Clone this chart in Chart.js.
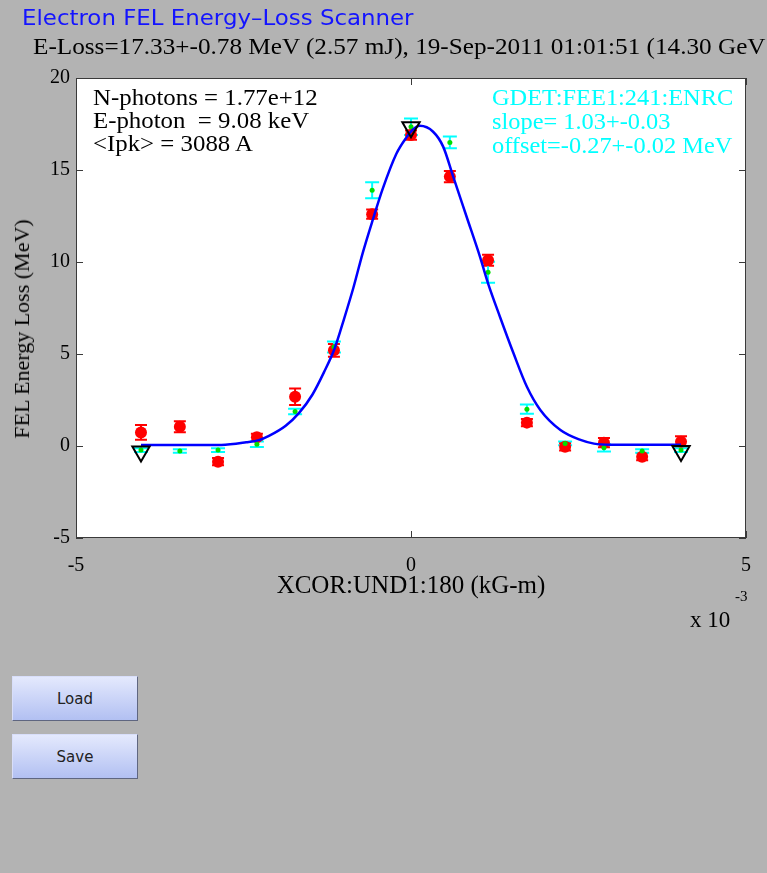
<!DOCTYPE html>
<html><head><meta charset="utf-8">
<script src="https://cdn.jsdelivr.net/npm/chart.js@4.4.0/dist/chart.umd.min.js"></script>
<style>
html,body{margin:0;padding:0;background:#b3b3b3;width:767px;height:873px;overflow:hidden;}
body{position:relative;}
#wrap{position:absolute;left:0;top:0;width:767px;height:640px;}
.t{position:absolute;white-space:pre;margin:0;transform-origin:0 0;}
#title{left:22px;top:6px;font-family:"DejaVu Sans";font-size:21px;line-height:24px;color:#1414ff;transform:scaleX(1.09);}
#sub{left:33px;top:33px;font-family:"Liberation Serif";font-size:24px;line-height:27px;color:#000;transform:scaleX(1.05);}
.ann{font-family:"Liberation Serif";font-size:23px;line-height:23px;transform:scaleX(1.08);}
#annL{left:93px;top:86px;color:#000;}
#annR{left:492px;top:86px;color:#00ffff;line-height:24px;transform:scaleX(1.06);}
#x10{left:690px;top:608px;font-family:"Liberation Serif";font-size:23px;line-height:24px;color:#000;}
#exp{left:735px;top:588px;font-family:"Liberation Serif";font-size:15px;line-height:16px;color:#000;}
#ylab{position:absolute;left:22px;top:329px;white-space:pre;font-family:"Liberation Serif";font-size:22px;line-height:24px;color:#000;transform:translate(-50%,-50%) rotate(-90deg);}
.btn{position:absolute;left:12px;width:126px;height:45px;box-sizing:border-box;border:1px solid;border-color:#d8defa #5f6680 #5f6680 #d8defa;background:linear-gradient(#e4e9fd,#b2c0f2);font-family:"DejaVu Sans";font-size:15px;color:#222;display:flex;align-items:center;justify-content:center;}
</style></head>
<body>
<div id="wrap"><canvas id="c" width="767" height="640"></canvas></div>
<div class="t" id="title">Electron FEL Energy–Loss Scanner</div>
<div class="t" id="sub">E-Loss=17.33+-0.78 MeV (2.57 mJ), 19-Sep-2011 01:01:51 (14.30 GeV</div>
<div class="t ann" id="annL">N-photons = 1.77e+12
E-photon  = 9.08 keV
&lt;Ipk&gt; = 3088 A</div>
<div class="t ann" id="annR">GDET:FEE1:241:ENRC
slope= 1.03+-0.03
offset=-0.27+-0.02 MeV</div>
<div id="ylab">FEL Energy Loss (MeV)</div>
<div class="t" id="x10">x 10</div>
<div class="t" id="exp">-3</div>
<div class="btn" style="top:676px;">Load</div>
<div class="btn" style="top:734px;">Save</div>
<script>
// ---- data (x in units of 1e-3 kG-m) ----
const xPos    = [-4.03, -3.45, -2.88, -2.30, -1.73, -1.15, -0.58, 0.00, 0.58, 1.15, 1.73, 2.30, 2.88, 3.45, 4.03];
const redY    = [0.74, 1.05, -0.85, 0.47, 2.68, 5.20, 12.60, 16.90, 14.64, 10.10, 1.27, -0.04, 0.18, -0.58, 0.23];
const redErr  = [0.40, 0.30, 0.20, 0.20, 0.45, 0.35, 0.25, 0.25, 0.30, 0.30, 0.20, 0.20, 0.25, 0.20, 0.30];
const cyanY   = [-0.22, -0.27, -0.22, 0.09, 1.87, 5.38, 13.90, 17.35, 16.50, 9.44, 2.00, 0.14, -0.10, -0.27, -0.22];
const cyanErr = [0.10, 0.10, 0.10, 0.15, 0.15, 0.30, 0.43, 0.45, 0.32, 0.57, 0.25, 0.10, 0.20, 0.10, 0.10];
const fitX    = [-4.03, -2.83, -2.46, -2.27, -2.12, -1.87, -1.67, -1.47, -1.30, -1.14, -1.00, -0.86, -0.72, -0.57, -0.42, -0.22, -0.07, 0.03, 0.13, 0.33, 0.48, 0.63, 0.83, 1.03, 1.15, 1.33, 1.53, 1.73, 1.93, 2.23, 2.53, 2.73, 2.97, 4.03];
const fitY    = [0.05, 0.06, 0.20, 0.32, 0.55, 1.10, 1.80, 2.80, 4.00, 5.30, 6.90, 8.60, 10.50, 12.30, 14.00, 15.87, 16.76, 17.20, 17.40, 17.08, 16.27, 14.64, 12.46, 10.28, 8.84, 7.00, 5.04, 3.22, 1.96, 0.87, 0.33, 0.13, 0.07, 0.07];
const refX    = [-4.03, 0.00, 4.03];
const refY    = [-0.30, 17.33, -0.27];
const xTicks  = [-5, 0, 5];
const yTicks  = [-5, 0, 5, 10, 15, 20];

const serif = "Liberation Serif";
const pts = (xs, ys) => xs.map((x, i) => ({x: x, y: ys[i]}));

const matlabAxes = {
  id: 'matlabAxes',
  beforeDraw(chart) {
    const a = chart.chartArea, c = chart.ctx;
    c.save(); c.fillStyle = '#ffffff';
    c.fillRect(a.left, a.top, a.right - a.left, a.bottom - a.top);
    c.restore();
  },
  beforeDatasetsDraw(chart) {
    const c = chart.ctx, xs = chart.scales.x, ys = chart.scales.y;
    const bars = (vals, errs, color, hw) => {
      c.save(); c.strokeStyle = color; c.lineWidth = 2;
      vals.forEach((v, i) => {
        const px = xs.getPixelForValue(xPos[i]);
        const p1 = ys.getPixelForValue(v - errs[i]);
        const p2 = ys.getPixelForValue(v + errs[i]);
        c.beginPath();
        c.moveTo(px, p1); c.lineTo(px, p2);
        c.moveTo(px - hw, p1); c.lineTo(px + hw, p1);
        c.moveTo(px - hw, p2); c.lineTo(px + hw, p2);
        c.stroke();
      });
      c.restore();
    };
    bars(redY, redErr, '#ff0000', 6);
    bars(cyanY, cyanErr, '#00ffff', 7);
  },
  afterDatasetsDraw(chart) {
    const a = chart.chartArea, c = chart.ctx, xs = chart.scales.x, ys = chart.scales.y;
    c.save();
    c.strokeStyle = '#3a3a3a'; c.lineWidth = 1;
    c.strokeRect(Math.round(a.left) + 0.5, Math.round(a.top) + 0.5, Math.round(a.right - a.left) - 1, Math.round(a.bottom - a.top) - 1);
    const tl = 7;
    c.beginPath();
    xTicks.forEach(v => {
      const p = Math.round(xs.getPixelForValue(v)) + 0.5;
      c.moveTo(p, a.bottom); c.lineTo(p, a.bottom - tl);
      c.moveTo(p, a.top); c.lineTo(p, a.top + tl);
    });
    yTicks.forEach(v => {
      const p = Math.round(ys.getPixelForValue(v)) + 0.5;
      c.moveTo(a.left, p); c.lineTo(a.left + tl, p);
      c.moveTo(a.right, p); c.lineTo(a.right - tl, p);
    });
    c.stroke();
    c.restore();
  }
};

new Chart(document.getElementById('c'), {
  type: 'scatter',
  data: {
    datasets: [
      {label: 'reference', data: pts(refX, refY), pointStyle: 'triangle', rotation: 180, pointRadius: 10,
       borderColor: '#000000', borderWidth: 2, backgroundColor: 'rgba(0,0,0,0)', order: 0},
      {label: 'fit', type: 'line', data: pts(fitX, fitY), borderColor: '#0000ff', borderWidth: 2.5,
       pointRadius: 0, cubicInterpolationMode: 'monotone', fill: false, order: 1},
      {label: 'GDET', data: pts(xPos, cyanY), pointRadius: 2.5, backgroundColor: '#00e000', borderWidth: 0, order: 2},
      {label: 'E-loss', data: pts(xPos, redY), pointRadius: 6, backgroundColor: '#ff0000', borderWidth: 0, order: 3}
    ]
  },
  options: {
    responsive: false, animation: false, devicePixelRatio: 1, events: [],
    plugins: {legend: {display: false}, tooltip: {enabled: false}},
    layout: {padding: {left: 0, top: 78, right: 21, bottom: 39}},
    scales: {
      x: {
        type: 'linear', min: -5, max: 5,
        afterBuildTicks(s) { s.ticks = xTicks.map(v => ({value: v})); },
        afterFit(s) { s.height = 63; },
        grid: {display: false, drawTicks: false}, border: {display: false},
        ticks: {padding: 16, maxRotation: 0, color: '#000', font: {family: serif, size: 20}, callback: v => String(v)},
        title: {display: true, text: 'XCOR:UND1:180 (kG-m)', color: '#000', font: {family: serif, size: 25}, padding: {top: 0, bottom: 0}}
      },
      y: {
        type: 'linear', min: -5, max: 20,
        afterBuildTicks(s) { s.ticks = yTicks.map(v => ({value: v})); },
        afterFit(s) { s.width = 76; },
        grid: {display: false, drawTicks: false}, border: {display: false},
        ticks: {padding: 6, color: '#000', font: {family: serif, size: 20}, callback: v => String(v)},
        title: {display: false}
      }
    }
  },
  plugins: [matlabAxes]
});
</script>
</body></html>
